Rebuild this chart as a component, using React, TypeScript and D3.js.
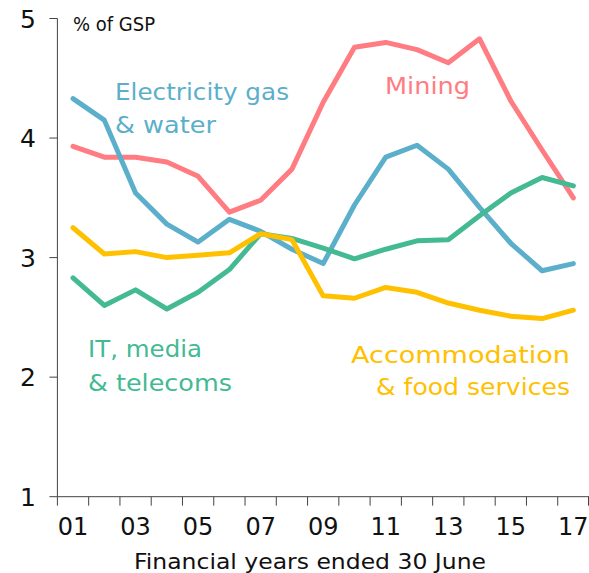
import React from "react";
import * as d3 from "d3";

const years = ["01","02","03","04","05","06","07","08","09","10","11","12","13","14","15","16","17"];
const electricity = [4.33,4.15,3.54,3.28,3.13,3.32,3.22,3.07,2.95,3.44,3.84,3.94,3.74,3.42,3.12,2.89,2.95];
const mining = [3.93,3.84,3.84,3.80,3.68,3.38,3.48,3.74,4.30,4.76,4.80,4.74,4.63,4.83,4.31,3.90,3.50];
const itMedia = [2.83,2.60,2.73,2.57,2.71,2.90,3.20,3.16,3.08,2.99,3.07,3.14,3.15,3.35,3.54,3.67,3.60];
const accommodation = [3.25,3.03,3.05,3.00,3.02,3.04,3.20,3.15,2.68,2.66,2.75,2.71,2.62,2.56,2.51,2.49,2.56];
const yTicks = [1,2,3,4,5];
const xTickLabels = ["01","03","05","07","09","11","13","15","17"];

const series = [
  { name: "Mining", values: mining, color: "#FF7C82" },
  { name: "Electricity", values: electricity, color: "#5BAFCB" },
  { name: "IT", values: itMedia, color: "#43BA93" },
  { name: "Accommodation", values: accommodation, color: "#FFC000" },
];

const W = 589, H = 573;
const FONT = "'DejaVu Sans', sans-serif";

export default function App() {
  const x = d3.scaleBand<string>().domain(years).range([57.4, 589]).padding(0);
  const y = d3.scaleLinear().domain([1, 5]).range([496.7, 18.5]);
  const cx = (yr: string) => (x(yr) as number) + x.bandwidth() / 2;
  const line = d3.line<number>().x((_, i) => cx(years[i])).y((d) => y(d)).curve(d3.curveLinear);
  const x0 = 57.4;
  const yBase = y(1);
  const boundaries = years.map((yr) => x(yr) as number).concat([589]);

  return (
    <svg width={W} height={H} style={{ position: "absolute", left: 0, top: 0, background: "#fff" }}>
      {/* series */}
      {series.map((s) => (
        <path key={s.name} d={line(s.values) || ""} fill="none" stroke={s.color} strokeWidth={5}
          strokeLinejoin="round" strokeLinecap="round" />
      ))}
      {/* axes */}
      <line x1={x0} x2={x0} y1={y(5)} y2={yBase} stroke="#444" strokeWidth={1} />
      {yTicks.map((t) => (
        <g key={t}>
          <line x1={x0 - 8} x2={x0} y1={y(t)} y2={y(t)} stroke="#444" strokeWidth={1} />
          <text x={28} y={y(t) + 9} fontFamily={FONT} fontSize={25} textAnchor="middle" fill="#111">{t}</text>
        </g>
      ))}
      <line x1={x0} x2={589} y1={yBase} y2={yBase} stroke="#444" strokeWidth={1} />
      {boundaries.map((b, i) => (
        <line key={i} x1={Math.min(b, 588.5)} x2={Math.min(b, 588.5)} y1={yBase} y2={yBase + 9} stroke="#444" strokeWidth={1} />
      ))}
      {xTickLabels.map((l) => (
        <text key={l} x={cx(l)} y={535} fontFamily={FONT} fontSize={24} textAnchor="middle" fill="#111">{l}</text>
      ))}
      <text x={310} y={569} fontFamily={FONT} fontSize={21} textAnchor="middle" fill="#111" textLength={352} lengthAdjust="spacingAndGlyphs">Financial years ended 30 June</text>
      <text x={73} y={31} fontFamily={FONT} fontSize={19} fill="#111" textLength={82} lengthAdjust="spacingAndGlyphs">% of GSP</text>
      {/* labels */}
      <text x={115} y={100} fontFamily={FONT} fontSize={23} fill="#5BAFCB" textLength={174} lengthAdjust="spacingAndGlyphs">Electricity gas</text>
      <text x={115} y={133} fontFamily={FONT} fontSize={23} fill="#5BAFCB" textLength={101} lengthAdjust="spacingAndGlyphs">&amp; water</text>
      <text x={385} y={94} fontFamily={FONT} fontSize={23} fill="#FF7C82" textLength={85} lengthAdjust="spacingAndGlyphs">Mining</text>
      <text x={88} y={357} fontFamily={FONT} fontSize={23} fill="#43BA93" textLength={114} lengthAdjust="spacingAndGlyphs">IT, media</text>
      <text x={88} y={391} fontFamily={FONT} fontSize={23} fill="#43BA93" textLength={144} lengthAdjust="spacingAndGlyphs">&amp; telecoms</text>
      <text x={570} y={363} fontFamily={FONT} fontSize={23} fill="#FFC000" textAnchor="end" textLength={219} lengthAdjust="spacingAndGlyphs">Accommodation</text>
      <text x={570} y={395} fontFamily={FONT} fontSize={23} fill="#FFC000" textAnchor="end" textLength={194} lengthAdjust="spacingAndGlyphs">&amp; food services</text>
    </svg>
  );
}
